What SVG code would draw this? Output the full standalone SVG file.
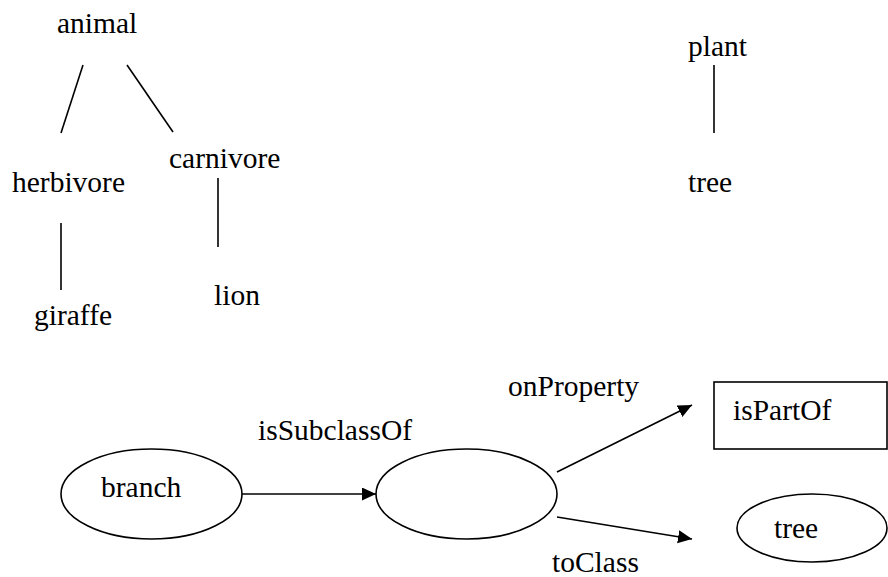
<svg xmlns="http://www.w3.org/2000/svg" width="888" height="577" viewBox="0 0 888 577">
  <style>
    .lbl { font-family: 'Liberation Serif', 'Times New Roman', serif; font-size: 29.5px; fill: #000; }
    .ln { stroke: #000; stroke-width: 1.6; fill: none; }
    .shape { stroke: #000; stroke-width: 1.6; fill: #fff; }
  </style>
  <defs>
    <marker id="arrow" markerUnits="userSpaceOnUse" markerWidth="15" markerHeight="14" refX="14" refY="6.5" orient="auto">
      <path d="M0,0 L14,6.5 L0,13 z" fill="#000"/>
    </marker>
  </defs>

  <!-- animal hierarchy -->
  <g id="connectors-animal">
    <line class="ln" x1="83" y1="65" x2="61" y2="133"/>
    <line class="ln" x1="127" y1="65" x2="173" y2="132"/>
    <line class="ln" x1="61" y1="223" x2="61" y2="290"/>
    <line class="ln" x1="218" y1="178" x2="218" y2="247"/>
  </g>
  <g id="animal"><text class="lbl" x="57" y="33">animal</text></g>
  <g id="herbivore"><text class="lbl" x="12" y="192">herbivore</text></g>
  <g id="carnivore"><text class="lbl" x="169" y="168">carnivore</text></g>
  <g id="giraffe"><text class="lbl" x="34" y="325">giraffe</text></g>
  <g id="lion"><text class="lbl" x="214" y="305">lion</text></g>

  <!-- plant hierarchy -->
  <g id="connectors-plant">
    <line class="ln" x1="714" y1="65" x2="714" y2="133"/>
  </g>
  <g id="plant"><text class="lbl" x="688" y="56">plant</text></g>
  <g id="tree-top"><text class="lbl" x="688" y="192">tree</text></g>

  <!-- restriction graph -->
  <g id="branch">
    <ellipse class="shape" cx="151.5" cy="494" rx="90.5" ry="45"/>
    <text class="lbl" x="101" y="497">branch</text>
  </g>
  <g id="restriction">
    <ellipse class="shape" cx="466.5" cy="494" rx="90.5" ry="45"/>
  </g>
  <g id="isPartOf">
    <rect class="shape" x="714" y="382" width="173" height="67"/>
    <text class="lbl" x="733" y="420">isPartOf</text>
  </g>
  <g id="tree">
    <ellipse class="shape" cx="812" cy="528" rx="75" ry="34"/>
    <text class="lbl" x="774" y="538">tree</text>
  </g>

  <g id="connectors">
    <line class="ln" x1="242" y1="494" x2="376" y2="494" marker-end="url(#arrow)"/>
    <line class="ln" x1="557" y1="472" x2="692" y2="405" marker-end="url(#arrow)"/>
    <line class="ln" x1="557" y1="517" x2="692" y2="539" marker-end="url(#arrow)"/>
    <text class="lbl" x="258" y="440">isSubclassOf</text>
    <text class="lbl" x="508" y="396">onProperty</text>
    <text class="lbl" x="552" y="572">toClass</text>
  </g>
</svg>
